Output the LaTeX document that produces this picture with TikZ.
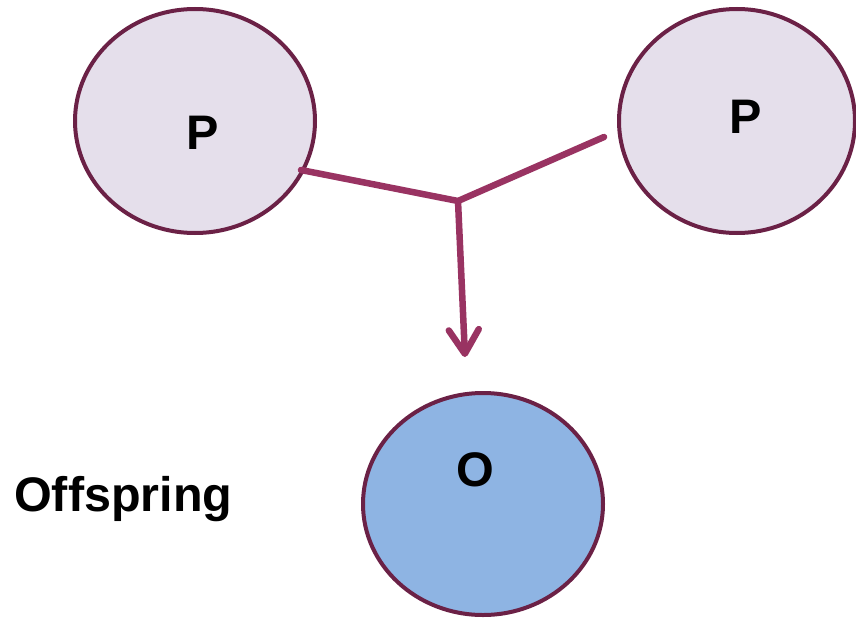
\documentclass[tikz,border=0pt]{standalone}
\usepackage{fontspec}
\setmainfont{Liberation Sans}
\usetikzlibrary{arrows.meta}
\definecolor{pfill}{HTML}{E5DFEB}
\definecolor{ofill}{HTML}{8EB4E3}
\definecolor{edge}{HTML}{6B2146}
\definecolor{conn}{HTML}{993362}
\tikzset{
  blob/.style={ellipse, draw=edge, line width=4pt, inner sep=0pt},
  lbl/.style={font=\fontsize{48.5}{50}\selectfont\bfseries, text=black, inner sep=0pt},
  link/.style={draw=conn, line width=6.5pt, line cap=round, line join=round}
}
\usetikzlibrary{shapes.geometric}
\begin{document}
\begin{tikzpicture}[x=1pt,y=-1pt]
\useasboundingbox (0,0) rectangle (856,618);
\node[blob, fill=pfill, minimum width=240pt, minimum height=224pt] (p1) at (195,121) {};
\node[blob, fill=pfill, minimum width=236pt, minimum height=224pt] (p2) at (737,121) {};
\node[blob, fill=ofill, minimum width=240pt, minimum height=222pt] (o) at (483,504) {};
\node[lbl] (lp1) at (203,133) {P};
\node[lbl] (lp2) at (746,117) {P};
\node[lbl] (lo) at (475,470) {O};
\node[lbl, anchor=west] (off) at (14,499) {Offspring};
\coordinate (j) at (458,201);
\coordinate (a1) at (301,170);
\coordinate (a2) at (604,137);
\coordinate (tip) at (465,357);
\draw[link] (a1) -- (j) -- (a2);
\draw[link, -{Straight Barb[length=24pt,width=30pt,round]}] (j) -- (tip);
\end{tikzpicture}
\end{document}
